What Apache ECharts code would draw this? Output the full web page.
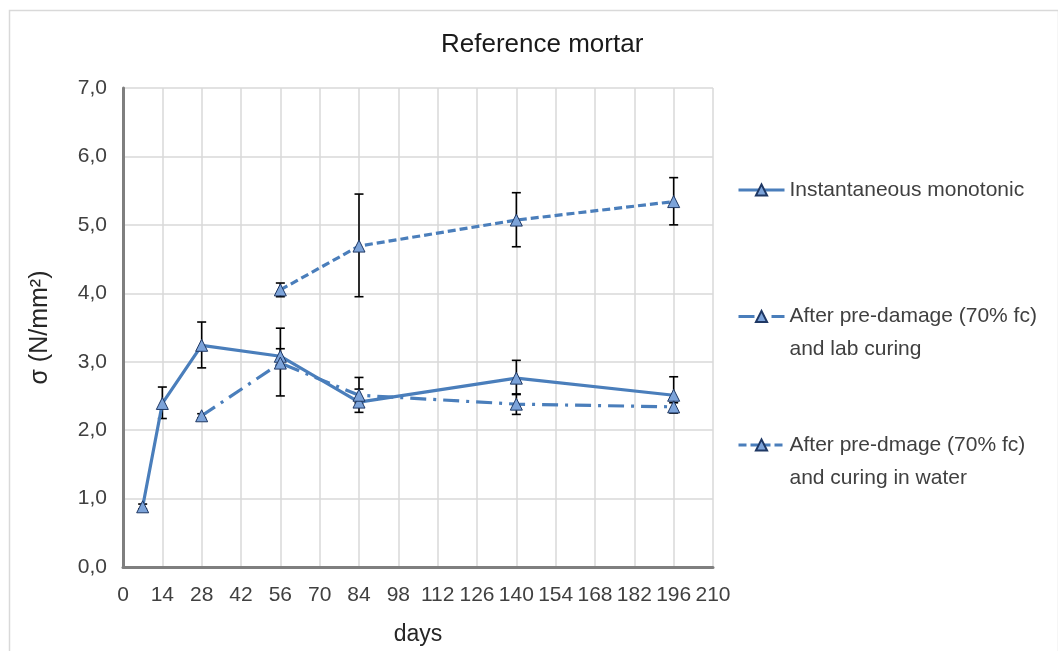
<!DOCTYPE html>
<html>
<head>
<meta charset="utf-8">
<script src="https://cdn.jsdelivr.net/npm/echarts@6/dist/echarts.min.js"></script>
<style>
html,body{margin:0;padding:0;background:#fff;}
#chart{width:1058px;height:651px;}
</style>
</head>
<body>
<div id="chart"></div>
<script>
// ---- Data ----
const chartTitle = 'Reference mortar';
const xTicks = [0,14,28,42,56,70,84,98,112,126,140,154,168,182,196,210];
const yTicks = [0,1,2,3,4,5,6,7];

const seriesNames = [
  'Instantaneous monotonic',
  'After pre-damage (70% fc)\nand lab curing',
  'After pre-dmage (70% fc)\nand curing in water'
];

const monoDays = [7, 14, 28, 56, 84, 140, 196];
const monoVals = [0.88, 2.39, 3.24, 3.08, 2.41, 2.76, 2.51];
const monoLow  = [0.85, 2.17, 2.91, 2.96, 2.26, 2.52, 2.25];
const monoHigh = [0.92, 2.63, 3.58, 3.19, 2.60, 3.02, 2.78];

const labDays = [28, 56, 84, 140, 196];
const labVals = [2.21, 2.98, 2.51, 2.38, 2.34];
const labLow  = [2.18, 2.50, 2.40, 2.23, 2.27];
const labHigh = [2.24, 3.49, 2.77, 2.53, 2.40];

const waterDays = [56, 84, 140, 196];
const waterVals = [4.05, 4.69, 5.07, 5.34];
const waterLow  = [3.95, 3.95, 4.68, 5.00];
const waterHigh = [4.15, 5.45, 5.47, 5.69];

// ---- Build ----
const FONT = '"Liberation Sans", Arial, sans-serif';
const LINE = '#4a7ebb';
const MARK = '#7ca3d9';
const MARK_BORDER = '#1f3864';

function pts(d, v) { return d.map((x, i) => [x, v[i]]); }
function errs(d, lo, hi) { return d.map((x, i) => [x, lo[i], hi[i]]); }

function errRender(params, api) {
  const x = api.value(0), lo = api.value(1), hi = api.value(2);
  const a = api.coord([x, hi]), b = api.coord([x, lo]);
  const w = 4.5;
  const st = { stroke: '#000', lineWidth: 1.6 };
  return { type: 'group', children: [
    { type: 'line', shape: { x1: a[0], y1: a[1], x2: b[0], y2: b[1] }, style: st },
    { type: 'line', shape: { x1: a[0]-w, y1: a[1], x2: a[0]+w, y2: a[1] }, style: st },
    { type: 'line', shape: { x1: b[0]-w, y1: b[1], x2: b[0]+w, y2: b[1] }, style: st }
  ]};
}

function lineSeries(name, data, type) {
  return {
    name: name, type: 'line', data: data, z: 3,
    symbol: 'triangle', symbolSize: 12,
    lineStyle: { color: LINE, width: 3.2, type: type },
    itemStyle: { color: MARK, borderColor: MARK_BORDER, borderWidth: 1 },
    animation: false
  };
}
function errSeries(data) {
  return { type: 'custom', renderItem: errRender, data: data, z: 2,
    encode: { x: 0, y: [1, 2] }, silent: true, animation: false };
}

const legendCommon = {
  left: 737, padding: 0, orient: 'vertical',
  itemWidth: 46, itemHeight: 14, itemGap: 0,
  lineStyle: { width: 3 },
  textStyle: { fontFamily: FONT, fontSize: 21, color: '#404040', lineHeight: 33 },
  selectedMode: false
};

const option = {
  backgroundColor: '#fff',
  animation: false,
  title: {
    text: chartTitle, left: 436, top: 27,
    textStyle: { fontFamily: FONT, fontSize: 26, fontWeight: 'normal', color: '#1a1a1a' }
  },
  legend: [
    Object.assign({}, legendCommon, { top: 173.5, data: [seriesNames[0]] }),
    Object.assign({}, legendCommon, { top: 267, data: [seriesNames[1]], formatter: n => '\n' + n }),
    Object.assign({}, legendCommon, { top: 395.5, data: [seriesNames[2]], formatter: n => '\n' + n })
  ],
  grid: { left: 123, right: 345, top: 88, bottom: 83 },
  xAxis: {
    type: 'value', min: xTicks[0], max: xTicks[xTicks.length-1], interval: 14,
    name: 'days', nameLocation: 'middle', nameGap: 56,
    nameTextStyle: { fontFamily: FONT, fontSize: 23, color: '#262626' },
    axisLine: { show: true, lineStyle: { color: '#7f7f7f', width: 3 } },
    axisTick: { show: false },
    axisLabel: { fontFamily: FONT, fontSize: 21, color: '#404040', margin: 18,
      formatter: v => xTicks.includes(v) ? String(v) : '' },
    splitLine: { show: true, lineStyle: { color: '#d9d9d9', width: 1.5 } }
  },
  yAxis: {
    type: 'value', min: yTicks[0], max: yTicks[yTicks.length-1], interval: 1,
    name: 'σ (N/mm²)', nameLocation: 'middle', nameGap: 70,
    nameTextStyle: { fontFamily: FONT, fontSize: 25, color: '#262626' },
    axisLine: { show: true, lineStyle: { color: '#7f7f7f', width: 3 } },
    axisTick: { show: false },
    axisLabel: { fontFamily: FONT, fontSize: 21, color: '#404040', margin: 16,
      formatter: v => v.toFixed(1).replace('.', ',') },
    splitLine: { show: true, lineStyle: { color: '#d9d9d9', width: 1.5 } }
  },
  graphic: [{
    type: 'rect', left: 7, top: 8, z: -10, silent: true,
    shape: { width: 1049, height: 660 },
    style: { fill: 'none', stroke: '#d9d9d9', lineWidth: 1.5 }
  }],
  series: [
    errSeries(errs(monoDays, monoLow, monoHigh)),
    errSeries(errs(labDays, labLow, labHigh)),
    errSeries(errs(waterDays, waterLow, waterHigh)),
    lineSeries(seriesNames[0], pts(monoDays, monoVals), 'solid'),
    lineSeries(seriesNames[1], pts(labDays, labVals), [16, 7, 3, 7]),
    lineSeries(seriesNames[2], pts(waterDays, waterVals), [8, 4])
  ]
};

const chart = echarts.init(document.getElementById('chart'), null, { renderer: 'canvas' });
chart.setOption(option);
</script>
</body>
</html>
